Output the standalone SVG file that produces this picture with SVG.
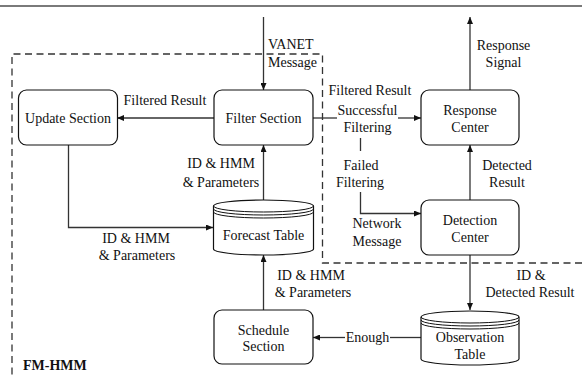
<svg xmlns="http://www.w3.org/2000/svg" width="582" height="375" viewBox="0 0 582 375" font-family="'Liberation Serif', 'Times New Roman', serif">
<defs>
<marker id="ah" markerWidth="7" markerHeight="6" refX="7" refY="3" orient="auto" markerUnits="userSpaceOnUse">
<path d="M0,0 L7,3 L0,6 z" fill="#111"/>
</marker>
<style>
text{font-family:'Liberation Serif','Times New Roman',serif;font-size:14px;fill:#111}
.m{text-anchor:middle}
.box{fill:#fff;stroke:#111;stroke-width:1.2}
.ln{fill:none;stroke:#333;stroke-width:1.3}
.ar{fill:none;stroke:#333;stroke-width:1.3;marker-end:url(#ah)}
.cy{fill:#fff;stroke:#111;stroke-width:1.2}
.cl{fill:none;stroke:#111;stroke-width:1}
</style>
</defs>
<rect width="582" height="375" fill="#fff"/>
<line x1="0" y1="6" x2="582" y2="6" stroke="#7a7a7a" stroke-width="2.2"/>
<path d="M582,263 H322.5 V54 H12 V375" fill="none" stroke="#333" stroke-width="1.3" stroke-dasharray="7,4.5"/>
<text x="23" y="370" font-weight="bold">FM-HMM</text>

<g id="connectors">
<line class="ar" x1="263.5" y1="17" x2="263.5" y2="90"/>
<text x="268" y="49">VANET</text>
<text x="268" y="67">Message</text>

<line class="ar" x1="214" y1="118" x2="117" y2="118"/>
<text class="m" x="165" y="105">Filtered Result</text>

<line class="ar" x1="263.5" y1="200" x2="263.5" y2="145"/>
<text class="m" x="221" y="168">ID &amp; HMM</text>
<text class="m" x="221" y="187">&amp; Parameters</text>

<polyline class="ar" points="68.5,145 68.5,227.5 213,227.5"/>
<text class="m" x="136" y="243">ID &amp; HMM</text>
<text class="m" x="137" y="260">&amp; Parameters</text>

<line class="ar" x1="263.5" y1="310" x2="263.5" y2="255"/>
<text class="m" x="311" y="280">ID &amp; HMM</text>
<text class="m" x="313" y="297">&amp; Parameters</text>

<line class="ln" x1="313" y1="118" x2="337" y2="118"/>
<line class="ar" x1="398" y1="118" x2="421" y2="118"/>
<text class="m" x="370" y="95">Filtered Result</text>
<text class="m" x="367.5" y="115">Successful</text>
<text class="m" x="367.5" y="132">Filtering</text>
<line class="ln" x1="360.5" y1="138" x2="360.5" y2="151"/>
<text class="m" x="361" y="170">Failed</text>
<text class="m" x="360" y="187">Filtering</text>
<polyline class="ar" points="360.5,192 360.5,213.5 421,213.5"/>
<text class="m" x="377" y="228">Network</text>
<text class="m" x="377" y="246">Message</text>

<line class="ar" x1="470" y1="200" x2="470" y2="145"/>
<text class="m" x="507" y="170">Detected</text>
<text class="m" x="507" y="187">Result</text>

<line class="ar" x1="470" y1="90" x2="470" y2="17"/>
<text class="m" x="503.5" y="50">Response</text>
<text class="m" x="503.5" y="67">Signal</text>

<line class="ar" x1="470" y1="255" x2="470" y2="310"/>
<text class="m" x="531" y="280">ID &amp;</text>
<text class="m" x="530" y="297">Detected Result</text>

<line class="ln" x1="421" y1="337.5" x2="390" y2="337.5"/>
<line class="ar" x1="345" y1="337.5" x2="313" y2="337.5"/>
<text class="m" x="367.5" y="342">Enough</text>
</g>

<g id="update-section">
<rect class="box" x="18.5" y="90" width="99" height="55" rx="8"/>
<text class="m" x="68" y="123">Update Section</text>
</g>
<g id="filter-section">
<rect class="box" x="214" y="90" width="99" height="55" rx="8"/>
<text class="m" x="263.5" y="123">Filter Section</text>
</g>
<g id="response-center">
<rect class="box" x="421" y="90" width="98" height="55" rx="8"/>
<text class="m" x="470" y="115">Response</text>
<text class="m" x="470" y="132">Center</text>
</g>
<g id="detection-center">
<rect class="box" x="421" y="200" width="98" height="55" rx="8"/>
<text class="m" x="470" y="225">Detection</text>
<text class="m" x="470" y="242">Center</text>
</g>
<g id="schedule-section">
<rect class="box" x="214" y="310" width="99" height="54" rx="8"/>
<text class="m" x="263.5" y="335">Schedule</text>
<text class="m" x="263.5" y="351">Section</text>
</g>
<g id="forecast-table">
<path class="cy" d="M213.5,206 V249 A50,6 0 0 0 313.5,249 V206 A50,6 0 0 0 213.5,206 z"/>
<path class="cl" d="M213.5,206 A50,6 0 0 0 313.5,206"/>
<path class="cl" d="M213.5,209 A50,6 0 0 0 313.5,209"/>
<path class="cl" d="M213.5,212 A50,6 0 0 0 313.5,212"/>
<text class="m" x="263.5" y="240">Forecast Table</text>
</g>
<g id="observation-table">
<path class="cy" d="M421,317 V359 A49,6 0 0 0 519,359 V317 A49,6 0 0 0 421,317 z"/>
<path class="cl" d="M421,317 A49,6 0 0 0 519,317"/>
<path class="cl" d="M421,320 A49,6 0 0 0 519,320"/>
<path class="cl" d="M421,323 A49,6 0 0 0 519,323"/>
<text class="m" x="470" y="342">Observation</text>
<text class="m" x="470" y="359">Table</text>
</g>
</svg>
